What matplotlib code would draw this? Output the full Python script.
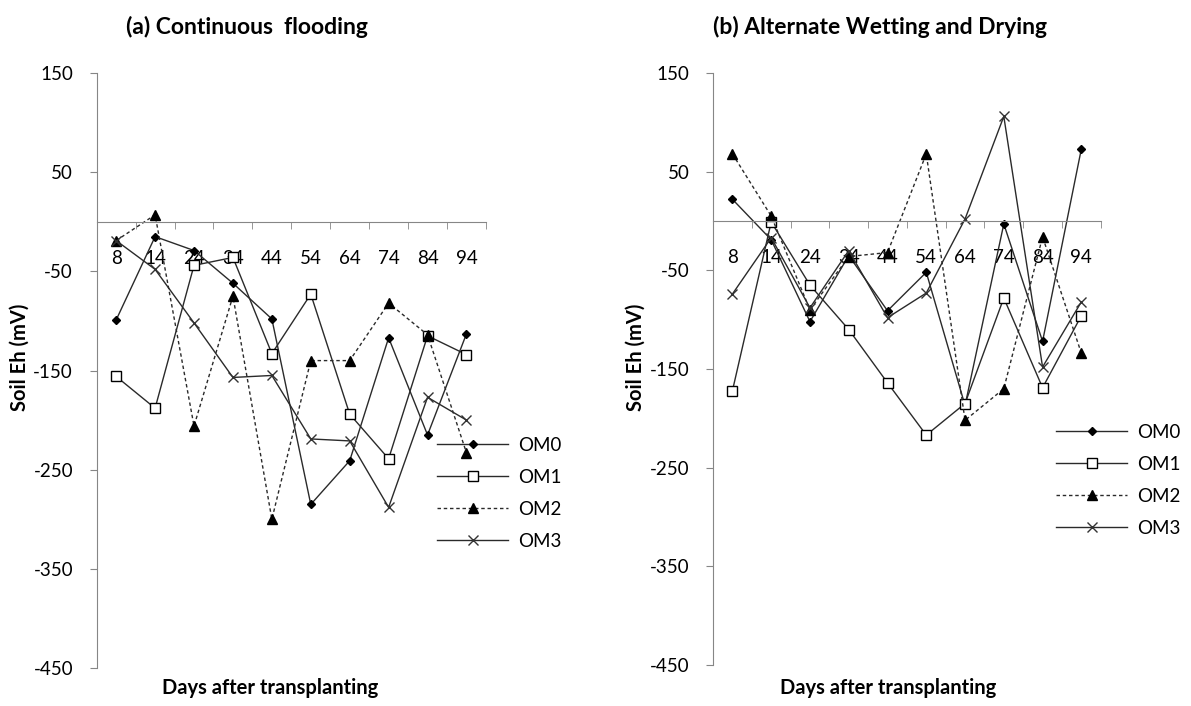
import numpy as np
import matplotlib.pyplot as plt

plt.rcParams['font.family'] = ['Lato', 'DejaVu Sans']
plt.rcParams['axes.unicode_minus'] = False

days = ['8', '14', '24', '34', '44', '54', '64', '74', '84', '94']

# (a) continuous flooding, soil Eh in mV
cf_om0 = [-99, -15, -29, -62, -98, -285, -241, -117, -215, -113]
cf_om1 = [-156, -188, -44, -36, -133, -73, -194, -239, -115, -134]
cf_om2 = [-19, 7, -206, -75, -300, -140, -140, -82, -114, -233]
cf_om3 = [-19, -48, -102, -157, -155, -219, -221, -288, -177, -200]

# (b) alternate wetting and drying
awd_om0 = [22, -19, -102, -35, -91, -52, -187, -3, -122, 73]
awd_om1 = [-172, -1, -65, -110, -164, -217, -185, -78, -169, -96]
awd_om2 = [68, 5, -90, -36, -32, 68, -202, -170, -16, -134]
awd_om3 = [-74, -17, -88, -30, -98, -73, 2, 106, -148, -82]

series_names = ['OM0', 'OM1', 'OM2', 'OM3']
styles = [
    dict(marker='D', ms=4.5, mfc='black', mec='black', ls='-'),
    dict(marker='s', ms=7.5, mfc='white', mec='black', ls='-'),
    dict(marker='^', ms=7, mfc='black', mec='black', ls=(0, (2.5, 2))),
    dict(marker='x', ms=7, mfc='black', mec='#333333', mew=1.0, ls='-'),
]

GRAY = '#868686'


def draw_panel(ax, data):
    x = np.arange(len(days))
    lines = []
    for vals, name, st in zip(data, series_names, styles):
        ln, = ax.plot(x, vals, color='#2a2a2a', lw=1.0, label=name, **st)
        lines.append(ln)
    ax.set_xlim(-0.5, len(days) - 0.5)
    ax.set_ylim(-450, 150)
    ax.set_yticks(np.arange(-450, 151, 100))
    ax.spines['top'].set_visible(False)
    ax.spines['right'].set_visible(False)
    ax.spines['bottom'].set_position(('data', 0))
    ax.spines['bottom'].set_color(GRAY)
    ax.spines['left'].set_color(GRAY)
    ax.set_xticks(x)
    ax.set_xticklabels(days)
    ax.set_xticks(np.arange(-0.5, len(days)), minor=True)
    ax.tick_params(axis='x', which='major', length=0, pad=20, labelsize=13.5)
    ax.tick_params(axis='x', which='minor', length=5, color=GRAY, direction='out')
    ax.tick_params(axis='y', length=5, color=GRAY, pad=12, labelsize=13.5)
    return lines


fig = plt.figure(figsize=(11.91, 7.06), dpi=100)
ax1 = fig.add_axes([0.0812, 0.0538, 0.3268, 0.8428])
ax2 = fig.add_axes([0.5987, 0.0581, 0.3255, 0.8385])

h1 = draw_panel(ax1, [cf_om0, cf_om1, cf_om2, cf_om3])
h2 = draw_panel(ax2, [awd_om0, awd_om1, awd_om2, awd_om3])

leg_kw = dict(frameon=False, loc='upper left', borderpad=0, borderaxespad=0,
              handlelength=3.8, handletextpad=0.55, labelspacing=0.8, fontsize=13.5)
fig.legend(h1, series_names, bbox_to_anchor=(0.3669, 0.3810), **leg_kw)
fig.legend(h2, series_names, bbox_to_anchor=(0.8866, 0.3995), **leg_kw)

fig.text(247 / 1191, 1 - 27 / 706, '(a) Continuous  flooding', ha='center', va='center',
         fontsize=16.5, fontweight='bold')
fig.text(880 / 1191, 1 - 27 / 706, '(b) Alternate Wetting and Drying', ha='center', va='center',
         fontsize=16.5, fontweight='bold')

for xc in (20, 636):
    fig.text(xc / 1191, 1 - 357 / 706, 'Soil Eh (mV)', rotation=90, ha='center', va='center',
             fontsize=14.5, fontweight='bold')
for xc in (270, 888):
    fig.text(xc / 1191, 1 - 688 / 706, 'Days after transplanting', ha='center', va='center',
             fontsize=14.5, fontweight='bold')

fig.savefig('out.png', dpi=100)
